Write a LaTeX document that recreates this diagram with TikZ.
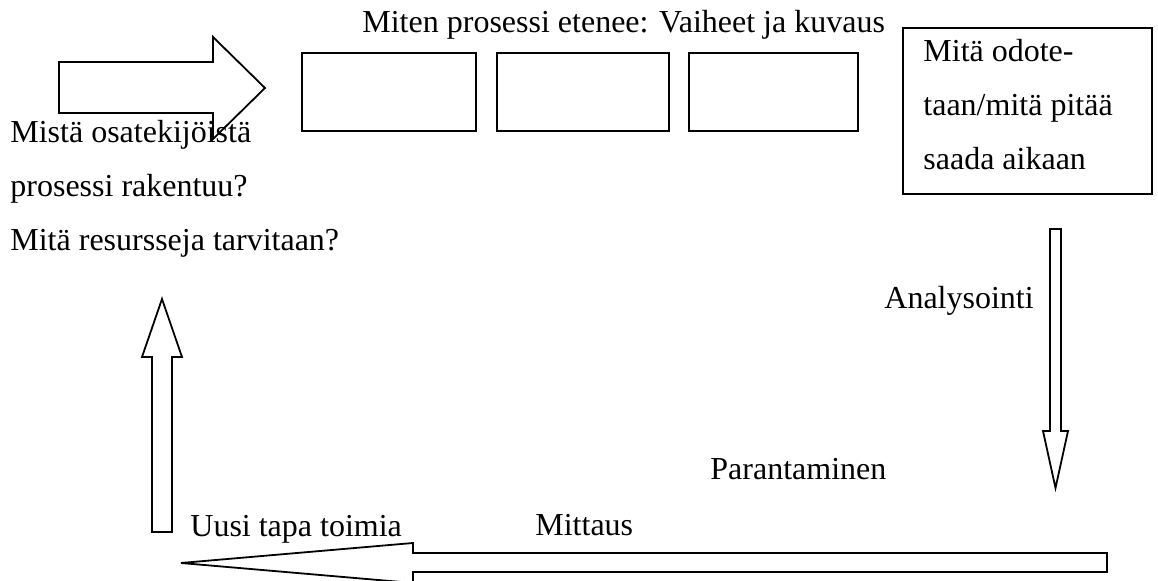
\documentclass[tikz,border=0pt]{standalone}
\usepackage{fontspec}
\setmainfont{Liberation Serif}
\usepackage{tikz}
\usetikzlibrary{positioning}

\tikzset{
  lbl/.style={anchor=base west, inner sep=0pt, font=\fontsize{16}{27}\selectfont},
  stepbox/.style={draw, line width=0.9pt, inner sep=0pt, minimum height=39pt},
  blockarrow/.style={draw, line width=0.9pt, line join=miter}
}

\begin{document}
\begin{tikzpicture}[x=0.5pt,y=-0.5pt]
\useasboundingbox (0,0) rectangle (1158,581);
% arrow into the process
\draw[blockarrow] (59,62) -- (213,62) -- (213,37) -- (265,88) -- (213,139) -- (213,113) -- (59,113) -- cycle;
% phases
\node[lbl] (title) at (362,33) {Miten prosessi etenee: Vaiheet ja kuvaus};
\node[stepbox, minimum width=87pt] (phase1) at (389,92) {};
\node[stepbox, minimum width=86pt] (phase2) at (583,92) {};
\node[stepbox, minimum width=84.5pt] (phase3) at (773.5,92) {};
\node[draw, line width=0.9pt, inner sep=0pt, minimum width=124.5pt, minimum height=83pt] (goal) at (1027.5,111) {};
\node[lbl] (goal1) at (923,62) {Mitä odote-};
\node[lbl] (goal2) at (923,116) {taan/mitä pitää};
\node[lbl] (goal3) at (923,170) {saada aikaan};
% left questions
\node[lbl] (parts1) at (10,143) {Mistä osatekijöistä};
\node[lbl] (parts2) at (10,197) {prosessi rakentuu?};
\node[lbl] (parts3) at (10,251) {Mitä resursseja tarvitaan?};
% cycle
\draw[blockarrow] (1050,229) -- (1061,229) -- (1061,431) -- (1068,431) -- (1055.5,488) -- (1043,431) -- (1050,431) -- cycle;
\node[lbl] (analysis) at (884,309) {Analysointi};
\node[lbl] (improve) at (710,480) {Parantaminen};
\draw[blockarrow] (1107,553) -- (413,553) -- (413,543) -- (181,563) -- (413,583) -- (413,572) -- (1107,572) -- cycle;
\node[lbl] (measure) at (535,536) {Mittaus};
\node[lbl] (newway) at (190,537) {Uusi tapa toimia};
\draw[blockarrow] (152,532) -- (152,357) -- (142,357) -- (162,299) -- (182,357) -- (172,357) -- (172,532) -- cycle;
\end{tikzpicture}
\end{document}
